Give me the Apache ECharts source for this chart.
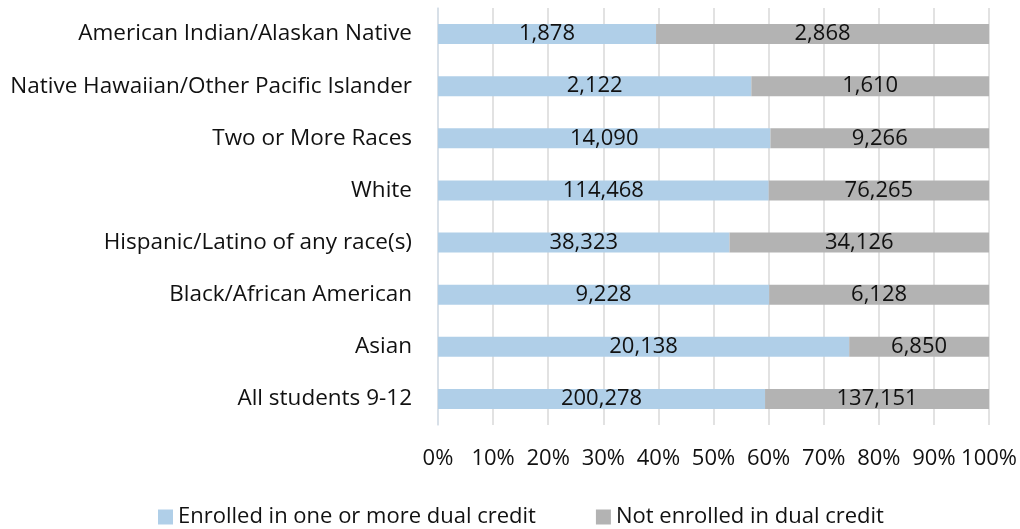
<!DOCTYPE html>
<html>
<head>
<meta charset="utf-8">
<script src="https://cdn.jsdelivr.net/npm/echarts@6/dist/echarts.min.js"></script>
<style>html,body{margin:0;padding:0;background:#fff}#c{width:1020px;height:529px}</style>
</head>
<body>
<div id="c"></div>
<script>
const categories = ["All students 9-12","Asian","Black/African American","Hispanic/Latino of any race(s)","White","Two or More Races","Native Hawaiian/Other Pacific Islander","American Indian/Alaskan Native"];
const enrolled = [200278, 20138, 9228, 38323, 114468, 14090, 2122, 1878];
const notEnrolled = [137151, 6850, 6128, 34126, 76265, 9266, 1610, 2868];
const seriesNames = ["Enrolled in one or more dual credit", "Not enrolled in dual credit"];

const FONT = '"Open Sans", "Noto Sans", sans-serif';
const TXT = '#111';
const fmt = n => n.toLocaleString('en-US');
const pct = (a, b) => a.map((v, i) => ({ value: 100 * v / (v + b[i]), count: v }));

const chart = echarts.init(document.getElementById('c'));
chart.setOption({
  animation: false,
  textStyle: { fontFamily: FONT },
  grid: { left: 438, right: 30, top: 8, bottom: 104 },
  legend: {
    top: 501, left: 153, itemWidth: 15, itemHeight: 15, itemGap: 60,
    icon: 'rect',
    textStyle: { fontFamily: FONT, fontSize: 22, color: TXT },
    data: seriesNames
  },
  xAxis: {
    type: 'value', min: 0, max: 100, interval: 10,
    axisLabel: { formatter: '{value}%', fontFamily: FONT, fontSize: 22, color: TXT, margin: 23 },
    splitLine: { lineStyle: { color: '#d9d9d9', width: 1.5 } },
    axisLine: { show: false }, axisTick: { show: false }
  },
  yAxis: {
    type: 'category', data: categories,
    axisLabel: { fontFamily: FONT, fontSize: 22.5, color: TXT, margin: 26 },
    axisLine: { show: true, lineStyle: { color: '#d4dfea', width: 1.5 } },
    axisTick: { show: false }
  },
  series: [
    {
      name: seriesNames[0], type: 'bar', stack: 't', barWidth: 20,
      itemStyle: { color: '#b0cfe8' },
      label: { show: true, position: 'inside', fontFamily: FONT, fontSize: 22, color: TXT,
        formatter: p => fmt(p.data.count) },
      data: pct(enrolled, notEnrolled)
    },
    {
      name: seriesNames[1], type: 'bar', stack: 't', barWidth: 20,
      itemStyle: { color: '#b3b3b3' },
      label: { show: true, position: 'inside', fontFamily: FONT, fontSize: 22, color: TXT,
        formatter: p => fmt(p.data.count) },
      data: pct(notEnrolled, enrolled)
    }
  ]
});
</script>
</body>
</html>
